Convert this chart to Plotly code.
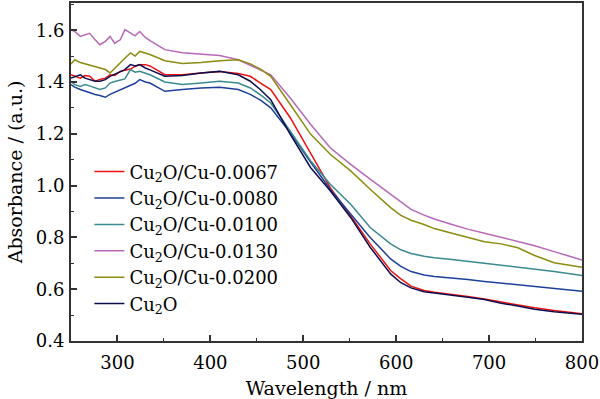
import plotly.graph_objects as go

wavelength = [250, 254, 260, 265, 270, 276, 281, 287, 292, 297, 303, 308, 314, 319, 324, 330, 335,
              351, 370, 390, 410, 430, 443, 454, 465, 486, 508, 529, 551, 572, 594, 605, 616, 630,
              641, 660, 677, 695, 713, 731, 749, 770, 800]

cu2o_cu_0067 = [1.428, 1.422, 1.415, 1.425, 1.422, 1.403, 1.410, 1.415, 1.428, 1.425, 1.441, 1.445,
                1.450, 1.460, 1.467, 1.467, 1.462, 1.428, 1.428, 1.435, 1.441, 1.433, 1.422, 1.396,
                1.371, 1.262, 1.121, 0.992, 0.883, 0.775, 0.672, 0.640, 0.612, 0.595, 0.588, 0.580,
                0.572, 0.562, 0.550, 0.540, 0.528, 0.518, 0.505]
cu2o_cu_0080 = [1.390, 1.380, 1.371, 1.365, 1.358, 1.352, 1.348, 1.341, 1.352, 1.360, 1.371, 1.380,
                1.390, 1.395, 1.409, 1.400, 1.396, 1.364, 1.371, 1.377, 1.380, 1.371, 1.352, 1.330,
                1.300, 1.204, 1.090, 0.986, 0.890, 0.800, 0.717, 0.688, 0.668, 0.655, 0.649, 0.644,
                0.637, 0.630, 0.623, 0.617, 0.610, 0.602, 0.592]
cu2o_cu_0100 = [1.403, 1.390, 1.383, 1.390, 1.385, 1.377, 1.371, 1.377, 1.396, 1.402, 1.409, 1.412,
                1.448, 1.438, 1.441, 1.435, 1.428, 1.400, 1.390, 1.396, 1.403, 1.396, 1.377, 1.350,
                1.319, 1.210, 1.095, 1.005, 0.928, 0.838, 0.775, 0.752, 0.738, 0.727, 0.721, 0.715,
                0.708, 0.700, 0.691, 0.685, 0.678, 0.668, 0.653]
cu2o_cu_0130 = [1.602, 1.595, 1.576, 1.582, 1.588, 1.563, 1.544, 1.557, 1.576, 1.550, 1.563, 1.602,
                1.588, 1.578, 1.595, 1.572, 1.560, 1.525, 1.513, 1.508, 1.502, 1.486, 1.465, 1.445,
                1.428, 1.338, 1.236, 1.146, 1.082, 1.025, 0.967, 0.937, 0.908, 0.886, 0.871, 0.850,
                0.832, 0.816, 0.800, 0.785, 0.768, 0.745, 0.713]
cu2o_cu_0200 = [1.469, 1.486, 1.475, 1.470, 1.467, 1.460, 1.455, 1.448, 1.435, 1.454, 1.473, 1.492,
                1.512, 1.500, 1.518, 1.512, 1.506, 1.482, 1.471, 1.475, 1.482, 1.486, 1.470, 1.450,
                1.422, 1.313, 1.198, 1.121, 1.057, 0.986, 0.915, 0.885, 0.866, 0.850, 0.834, 0.816,
                0.800, 0.783, 0.775, 0.760, 0.730, 0.702, 0.685]
cu2o = [1.415, 1.420, 1.428, 1.415, 1.409, 1.403, 1.403, 1.409, 1.422, 1.430, 1.441, 1.448,
        1.467, 1.462, 1.467, 1.454, 1.447, 1.422, 1.425, 1.435, 1.441, 1.428, 1.403, 1.370,
        1.332, 1.198, 1.069, 0.980, 0.877, 0.762, 0.659, 0.625, 0.605, 0.590, 0.585, 0.578,
        0.569, 0.560, 0.546, 0.535, 0.523, 0.513, 0.503]

series_names = ["Cu<sub>2</sub>O/Cu-0.0067", "Cu<sub>2</sub>O/Cu-0.0080", "Cu<sub>2</sub>O/Cu-0.0100",
                "Cu<sub>2</sub>O/Cu-0.0130", "Cu<sub>2</sub>O/Cu-0.0200", "Cu<sub>2</sub>O"]
series_values = [cu2o_cu_0067, cu2o_cu_0080, cu2o_cu_0100, cu2o_cu_0130, cu2o_cu_0200, cu2o]
series_colors = ["#EE1111", "#1E4099", "#3A8A8E", "#B868B8", "#8C8C10", "#0D0D4D"]

x_ticks = [300, 400, 500, 600, 700, 800]
y_ticks = [0.4, 0.6, 0.8, 1.0, 1.2, 1.4, 1.6]
y_tick_labels = ["0.4", "0.6", "0.8", "1.0", "1.2", "1.4", "1.6"]

FONT = "DejaVu Serif"

fig = go.Figure()
for name, vals, col in zip(series_names, series_values, series_colors):
    fig.add_trace(go.Scatter(x=wavelength, y=vals, mode="lines", name=name,
                             line=dict(color=col, width=1.5)))

axis_common = dict(
    showline=True, linecolor="#333333", linewidth=2, mirror=True,
    ticks="inside", ticklen=6, tickwidth=1.5, tickcolor="#333333",
    showgrid=False, zeroline=False,
    tickfont=dict(family=FONT, size=18, color="black"),
)

fig.update_xaxes(range=[250, 800], tickvals=x_ticks, ticklabelstandoff=4,
                 minor=dict(ticks="inside", ticklen=3, tickwidth=1.2, tickcolor="#333333", dtick=50, tick0=0),
                 title=dict(text="Wavelength / nm", font=dict(family=FONT, size=19, color="black"), standoff=10),
                 **axis_common)
fig.update_yaxes(range=[0.4, 1.705], tickvals=y_ticks, ticktext=y_tick_labels, ticklabelstandoff=1,
                 minor=dict(ticks="inside", ticklen=3, tickwidth=1.2, tickcolor="#333333", dtick=0.1, tick0=0),
                 title=dict(text="Absorbance / (a.u.)", font=dict(family=FONT, size=19, color="black"), standoff=8),
                 **axis_common)

fig.update_layout(
    width=600, height=399,
    margin=dict(l=71, r=18, t=1, b=58),
    plot_bgcolor="white", paper_bgcolor="white",
    font=dict(family=FONT, size=18, color="black"),
    legend=dict(x=0.036, y=0.555, xanchor="left", yanchor="top",
                bgcolor="rgba(0,0,0,0)", font=dict(family=FONT, size=18, color="black")),
    showlegend=True,
)

fig.write_html("out.html", config={"displayModeBar": False},
               post_script="document.body.style.margin='0px';")
